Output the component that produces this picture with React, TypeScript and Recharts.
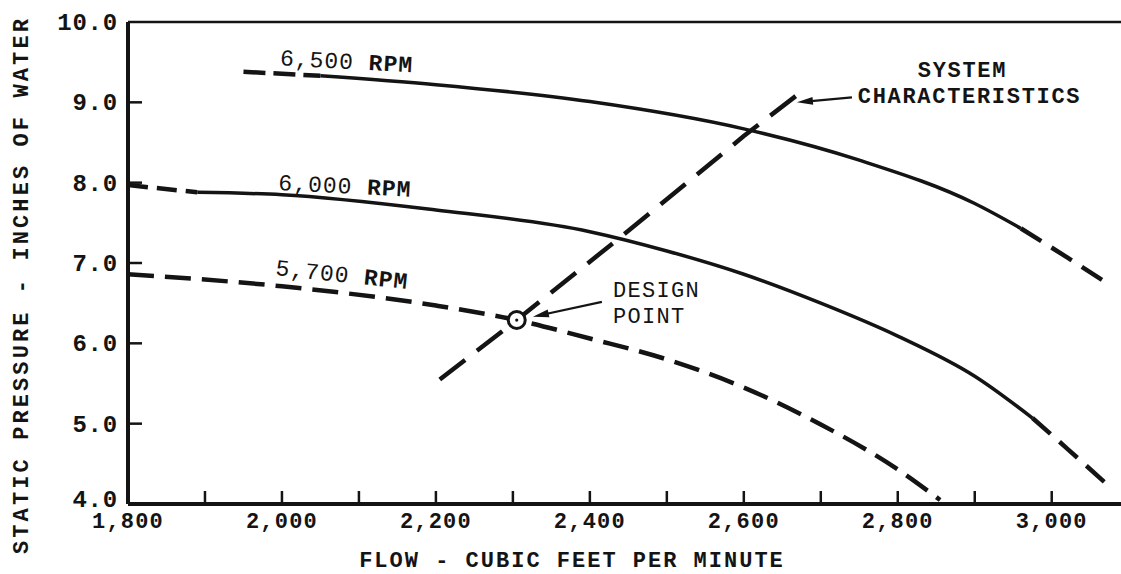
import { LineChart, Line, XAxis, YAxis, ReferenceLine, ReferenceDot } from "recharts";

const INK = "#141414";
const FONT = '"Liberation Mono", "Courier New", monospace';

const xTicks = [1800, 1900, 2000, 2100, 2200, 2300, 2400, 2500, 2600, 2700, 2800, 2900, 3000];
const yTicks = [4, 5, 6, 7, 8, 9, 10];

// 6,500 rpm fan curve (dashed lead-in, solid, dashed tail)
const rpm6500Lead = [
  { x: 1950, y: 9.38 },
  { x: 2050, y: 9.33 },
];
const rpm6500Main = [
  { x: 2050, y: 9.33 },
  { x: 2200, y: 9.22 },
  { x: 2400, y: 9.01 },
  { x: 2600, y: 8.67 },
  { x: 2750, y: 8.28 },
  { x: 2900, y: 7.74 },
  { x: 2960, y: 7.43 },
];
const rpm6500Tail = [
  { x: 2960, y: 7.43 },
  { x: 3020, y: 7.07 },
  { x: 3075, y: 6.73 },
];

// 6,000 rpm
const rpm6000Lead = [
  { x: 1800, y: 7.97 },
  { x: 1890, y: 7.88 },
];
const rpm6000Main = [
  { x: 1890, y: 7.88 },
  { x: 2000, y: 7.85 },
  { x: 2200, y: 7.66 },
  { x: 2400, y: 7.39 },
  { x: 2500, y: 7.15 },
  { x: 2600, y: 6.86 },
  { x: 2700, y: 6.5 },
  { x: 2800, y: 6.09 },
  { x: 2900, y: 5.59 },
  { x: 2975, y: 5.07 },
];
const rpm6000Tail = [
  { x: 2975, y: 5.07 },
  { x: 3020, y: 4.69 },
  { x: 3070, y: 4.26 },
];

// 5,700 rpm (all dashed)
const rpm5700 = [
  { x: 1800, y: 6.86 },
  { x: 2000, y: 6.71 },
  { x: 2200, y: 6.47 },
  { x: 2305, y: 6.29 },
  { x: 2400, y: 6.06 },
  { x: 2500, y: 5.8 },
  { x: 2600, y: 5.45 },
  { x: 2700, y: 4.99 },
  { x: 2800, y: 4.43 },
  { x: 2855, y: 4.05 },
];

// system resistance line
const systemLine = [
  { x: 2205, y: 5.55 },
  { x: 2305, y: 6.29 },
  { x: 2450, y: 7.4 },
  { x: 2600, y: 8.58 },
  { x: 2680, y: 9.17 },
];

const designPoint = { x: 2305, y: 6.29 };

const XTick = (props: any) => {
  const { x, y, payload } = props;
  const v = payload.value as number;
  return (
    <g>
      {v > 1800 && <line x1={x} y1={y} x2={x} y2={y - 13} stroke={INK} strokeWidth={2.5} />}
      {v % 200 === 0 && (
        <text x={x} y={y + 24} textAnchor="middle" fontFamily={FONT} fontSize={22} fontWeight={700} fill={INK} style={{ letterSpacing: 1.2 }}>
          {v.toLocaleString("en-US")}
        </text>
      )}
    </g>
  );
};

const YTick = (props: any) => {
  const { x, y, payload } = props;
  const v = payload.value as number;
  return (
    <g>
      {v > 4 && v < 10 && <line x1={x} y1={y} x2={x + 14} y2={y} stroke={INK} strokeWidth={2.5} />}
      <text x={x - 10} y={y + (v === 4 ? 3 : 8)} textAnchor="end" fontFamily={FONT} fontSize={24} fontWeight={700} fill={INK} style={{ letterSpacing: 0.8 }}>
        {v.toFixed(1)}
      </text>
    </g>
  );
};

const rpmLabel = (num: string, angle: number) => (p: any) => (
  <text
    x={p.cx}
    y={p.cy}
    transform={`rotate(${angle} ${p.cx} ${p.cy})`}
    fontFamily={FONT}
    fontSize={23}
    fill={INK}
    style={{ letterSpacing: 1 }}
  >
    <tspan fontWeight={400}>{num} </tspan>
    <tspan fontWeight={700}>RPM</tspan>
  </text>
);

const designNote = (p: any) => (
  <text x={p.cx} y={p.cy} fontFamily={FONT} fontSize={22} fontWeight={400} fill={INK} style={{ letterSpacing: 1.3 }}>
    <tspan x={p.cx}>DESIGN</tspan>
    <tspan x={p.cx} dy={26}>POINT</tspan>
  </text>
);

const systemNote = (p: any) => (
  <text x={p.cx} y={p.cy} fontFamily={FONT} fontSize={22} fontWeight={700} fill={INK} style={{ letterSpacing: 1.7 }}>
    <tspan x={p.cx + 60}>SYSTEM</tspan>
    <tspan x={p.cx} dy={26}>CHARACTERISTICS</tspan>
  </text>
);

const arrow = (dx: number, dy: number) => (p: any) => {
  const len = Math.hypot(dx, dy);
  const ux = dx / len;
  const uy = dy / len;
  const hl = 16;
  const hw = 4;
  const bx = p.cx + ux * hl;
  const by = p.cy + uy * hl;
  return (
    <g>
      <line x1={p.cx + ux * 6} y1={p.cy + uy * 6} x2={p.cx + dx} y2={p.cy + dy} stroke={INK} strokeWidth={2.2} />
      <polygon
        points={`${p.cx},${p.cy} ${bx - uy * hw},${by + ux * hw} ${bx + uy * hw},${by - ux * hw}`}
        fill={INK}
      />
    </g>
  );
};

const designMarker = (p: any) => (
  <g>
    <circle cx={p.cx} cy={p.cy} r={8.5} fill="#fff" stroke={INK} strokeWidth={3} />
    <circle cx={p.cx} cy={p.cy} r={1.6} fill={INK} />
  </g>
);

const yAxisTitle = () => {
  const cx = 28;
  const cy = 285;
  return (
    <text
      x={cx}
      y={cy}
      transform={`rotate(-90 ${cx} ${cy})`}
      textAnchor="middle"
      fontFamily={FONT}
      fontSize={22}
      fontWeight={700}
      fill={INK}
      style={{ letterSpacing: 3.1 }}
    >
      STATIC PRESSURE - INCHES OF WATER
    </text>
  );
};

const xAxisTitle = (p: any) => (
  <text
    x={572}
    y={p.viewBox.y + 63}
    textAnchor="middle"
    fontFamily={FONT}
    fontSize={22}
    fontWeight={700}
    fill={INK}
    style={{ letterSpacing: 2 }}
  >
    FLOW - CUBIC FEET PER MINUTE
  </text>
);

const solid = { stroke: INK, strokeWidth: 3.5, dot: false, isAnimationActive: false, type: "monotone" as const };
const dashed = { ...solid, strokeWidth: 4.5, strokeDasharray: "26 11" };

export default function App() {
  return (
    <div style={{ position: "absolute", left: 0, top: 0, background: "#fff" }}>
      <LineChart width={1121} height={574} margin={{ top: 22, right: 0, bottom: 0, left: 0 }}>
        <XAxis
          dataKey="x"
          type="number"
          domain={[1800, 3090]}
          ticks={xTicks}
          interval={0}
          allowDataOverflow
          height={70}
          tickSize={0}
          tickMargin={0}
          tickLine={false}
          axisLine={{ stroke: INK, strokeWidth: 4 }}
          tick={XTick}
          label={xAxisTitle}
        />
        <YAxis
          dataKey="y"
          type="number"
          domain={[4, 10]}
          ticks={yTicks}
          interval={0}
          allowDataOverflow
          width={128}
          tickSize={0}
          tickMargin={0}
          tickLine={false}
          axisLine={{ stroke: INK, strokeWidth: 4 }}
          tick={YTick}
          label={yAxisTitle}
        />
        <ReferenceLine y={10} stroke={INK} strokeWidth={2.5} />

        <Line data={rpm6500Lead} dataKey="y" {...dashed} strokeDasharray="22 8" />
        <Line data={rpm6500Main} dataKey="y" {...solid} />
        <Line data={rpm6500Tail} dataKey="y" {...dashed} strokeDasharray="24 12" />

        <Line data={rpm6000Lead} dataKey="y" {...dashed} strokeDasharray="20 9" />
        <Line data={rpm6000Main} dataKey="y" {...solid} />
        <Line data={rpm6000Tail} dataKey="y" {...dashed} strokeDasharray="24 12" />

        <Line data={rpm5700} dataKey="y" {...dashed} />
        <Line data={systemLine} dataKey="y" {...dashed} type="linear" strokeDasharray="32 15" />

        <ReferenceDot x={1997} y={9.46} r={0} shape={rpmLabel("6,500", 3)} />
        <ReferenceDot x={1995} y={7.91} r={0} shape={rpmLabel("6,000", 3)} />
        <ReferenceDot x={1991} y={6.85} r={0} shape={rpmLabel("5,700", 6)} />

        <ReferenceDot x={2430} y={6.58} r={0} shape={designNote} />
        <ReferenceDot x={2326} y={6.33} r={0} shape={arrow(69, -15)} />
        <ReferenceDot x={designPoint.x} y={designPoint.y} r={8} shape={designMarker} />

        <ReferenceDot x={2748} y={9.32} r={0} shape={systemNote} />
        <ReferenceDot x={2669} y={9.0} r={0} shape={arrow(55, -5)} />
      </LineChart>
    </div>
  );
}
